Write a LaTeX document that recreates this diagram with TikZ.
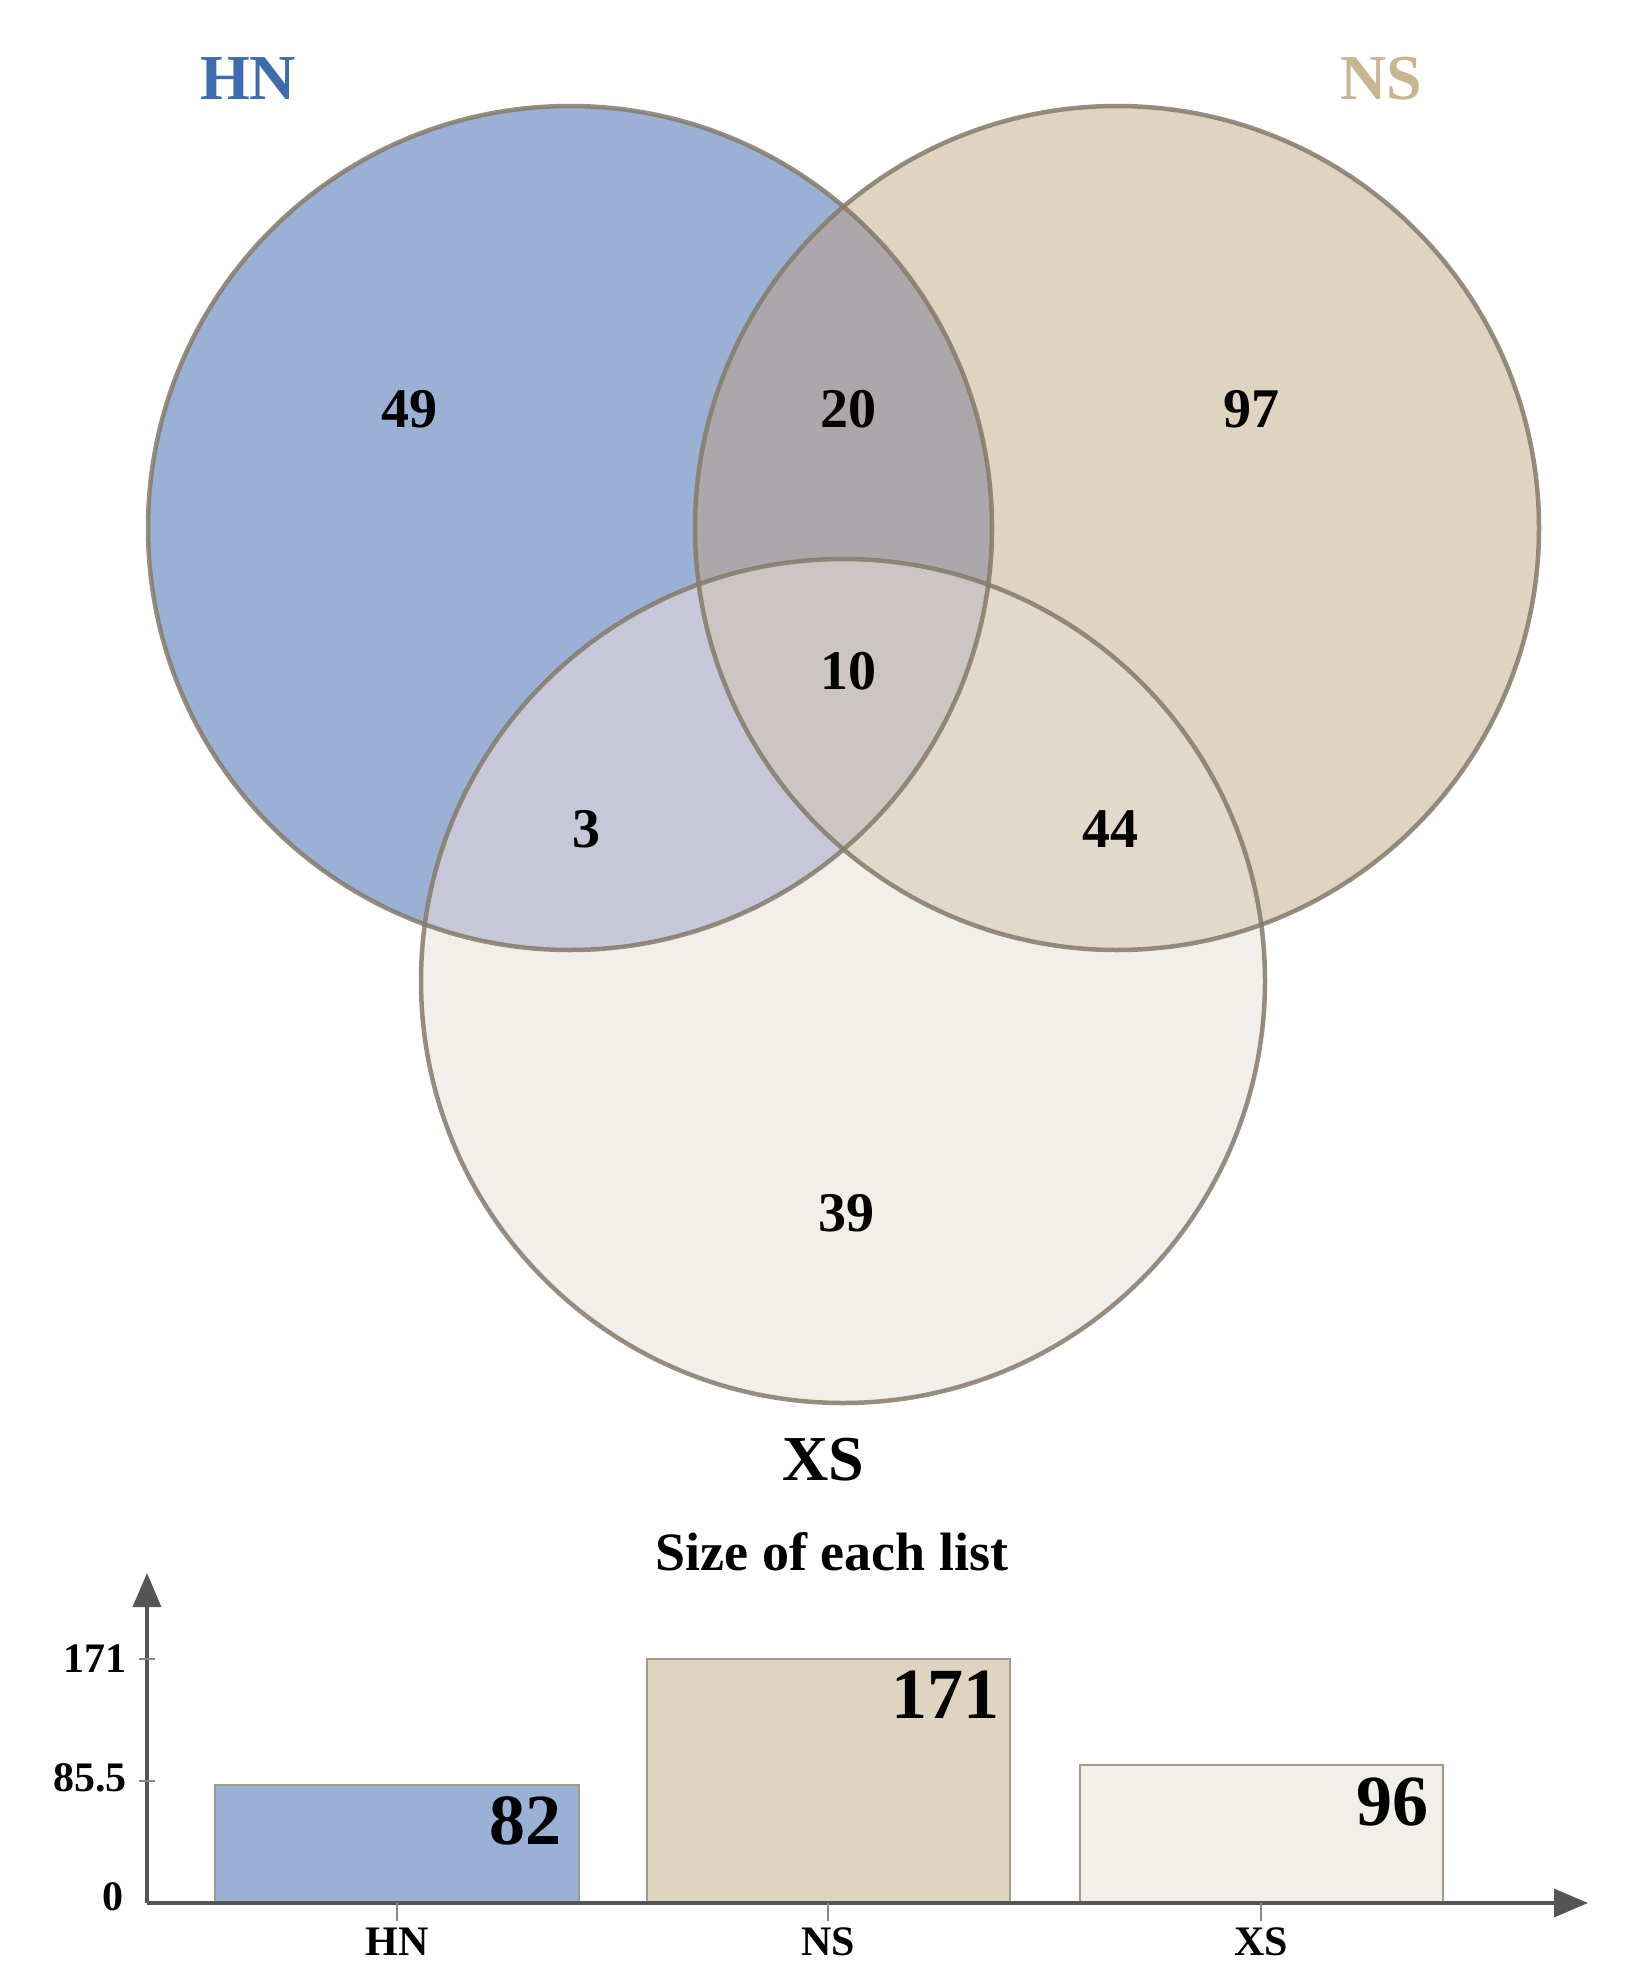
\documentclass[tikz,border=0pt]{standalone}
\usepackage{fontspec}
\setmainfont{Liberation Serif}
\usetikzlibrary{arrows.meta}
\definecolor{hnc}{HTML}{9AB1D5}
\definecolor{nsc}{HTML}{DFD4BF}
\definecolor{xsc}{HTML}{F2EFEA}
\definecolor{hnns}{HTML}{ACA7AA}
\definecolor{hnxs}{HTML}{C6C7D9}
\definecolor{nsxs}{HTML}{E2D9CB}
\definecolor{allc}{HTML}{CBC6C3}
\definecolor{edgec}{HTML}{857A6A}
\definecolor{hnlab}{HTML}{3E6AAE}
\definecolor{nslab}{HTML}{C8B690}
\definecolor{axisc}{HTML}{555555}
\definecolor{barline}{HTML}{A39A8E}
\tikzset{
  venn/.style={draw=edgec, line width=4.5pt, draw opacity=0.85},
  num/.style={inner sep=0pt, font=\fontsize{56}{60}\selectfont\bfseries},
  setlab/.style={inner sep=0pt, font=\fontsize{64}{68}\selectfont\bfseries},
  ticklab/.style={inner sep=0pt, font=\fontsize{42}{46}\selectfont\bfseries, anchor=east},
  catlab/.style={inner sep=0pt, font=\fontsize{42}{46}\selectfont\bfseries},
  barval/.style={inner sep=0pt, font=\fontsize{72}{76}\selectfont\bfseries, anchor=north east},
  bar/.style={draw=barline, line width=2pt},
  axisline/.style={draw=axisc, line width=3.5pt},
  tickline/.style={draw=axisc!70, line width=1.5pt}
}
\begin{document}
\begin{tikzpicture}[x=1pt, y=-1pt]
\path[use as bounding box, fill=white] (0,0) rectangle (1641,1986);
% circle coordinates
\coordinate (cHN) at (570,528);
\coordinate (cNS) at (1117,528);
\coordinate (cXS) at (843,981);
\def\rr{422}
% base fills
\fill[hnc] (cHN) circle (\rr);
\fill[nsc] (cNS) circle (\rr);
\fill[xsc] (cXS) circle (\rr);
\begin{scope}
  \clip (cHN) circle (\rr);
  \fill[hnns] (cNS) circle (\rr);
  \fill[hnxs] (cXS) circle (\rr);
\end{scope}
\begin{scope}
  \clip (cNS) circle (\rr);
  \fill[nsxs] (cXS) circle (\rr);
\end{scope}
\begin{scope}
  \clip (cHN) circle (\rr);
  \clip (cNS) circle (\rr);
  \fill[allc] (cXS) circle (\rr);
\end{scope}
% borders
\draw[venn] (cHN) circle (\rr);
\draw[venn] (cNS) circle (\rr);
\draw[venn] (cXS) circle (\rr);
% set labels
\node[setlab, text=hnlab] (lHN) at (248,79) {HN};
\node[setlab, text=nslab] (lNS) at (1381,79) {NS};
\node[setlab] (lXS) at (823,1460) {XS};
% region numbers
\node[num] (n49) at (409,409) {49};
\node[num] (n20) at (848,409) {20};
\node[num] (n97) at (1251,409) {97};
\node[num] (n10) at (848,671) {10};
\node[num] (n3) at (586,829) {3};
\node[num] (n44) at (1110,829) {44};
\node[num] (n39) at (846,1213) {39};
% bar chart
\node[inner sep=0pt, font=\fontsize{54}{58}\selectfont\bfseries] (title) at (832,1552) {Size of each list};
\coordinate (orig) at (147,1903);
\coordinate (ytip) at (147,1573);
\coordinate (xtip) at (1588,1903);
\fill[hnc, bar] (215,1903) rectangle (579,1785);
\fill[nsc, bar] (647,1903) rectangle (1010,1659);
\fill[xsc, bar] (1080,1903) rectangle (1443,1765);
\draw[axisline, -{Triangle[length=34pt,width=28pt]}] (orig) -- (ytip);
\draw[axisline, -{Triangle[length=34pt,width=28pt]}] (orig) -- (xtip);
\draw[tickline] (139,1659) -- (155,1659);
\draw[tickline] (139,1781) -- (155,1781);
\draw[tickline] (397,1903) -- (397,1921);
\draw[tickline] (828,1903) -- (828,1921);
\draw[tickline] (1261,1903) -- (1261,1921);
\node[ticklab] (t171) at (127,1659) {171};
\node[ticklab] (t85) at (127,1778) {85.5};
\node[ticklab] (t0) at (124,1897) {0};
\node[catlab] (cHNl) at (397,1942) {HN};
\node[catlab] (cNSl) at (828,1942) {NS};
\node[catlab] (cXSl) at (1261,1942) {XS};
\node[barval] (v82) at (562,1796) {82};
\node[barval] (v171) at (1000,1671) {171};
\node[barval] (v96) at (1429,1778) {96};
\end{tikzpicture}
\end{document}
